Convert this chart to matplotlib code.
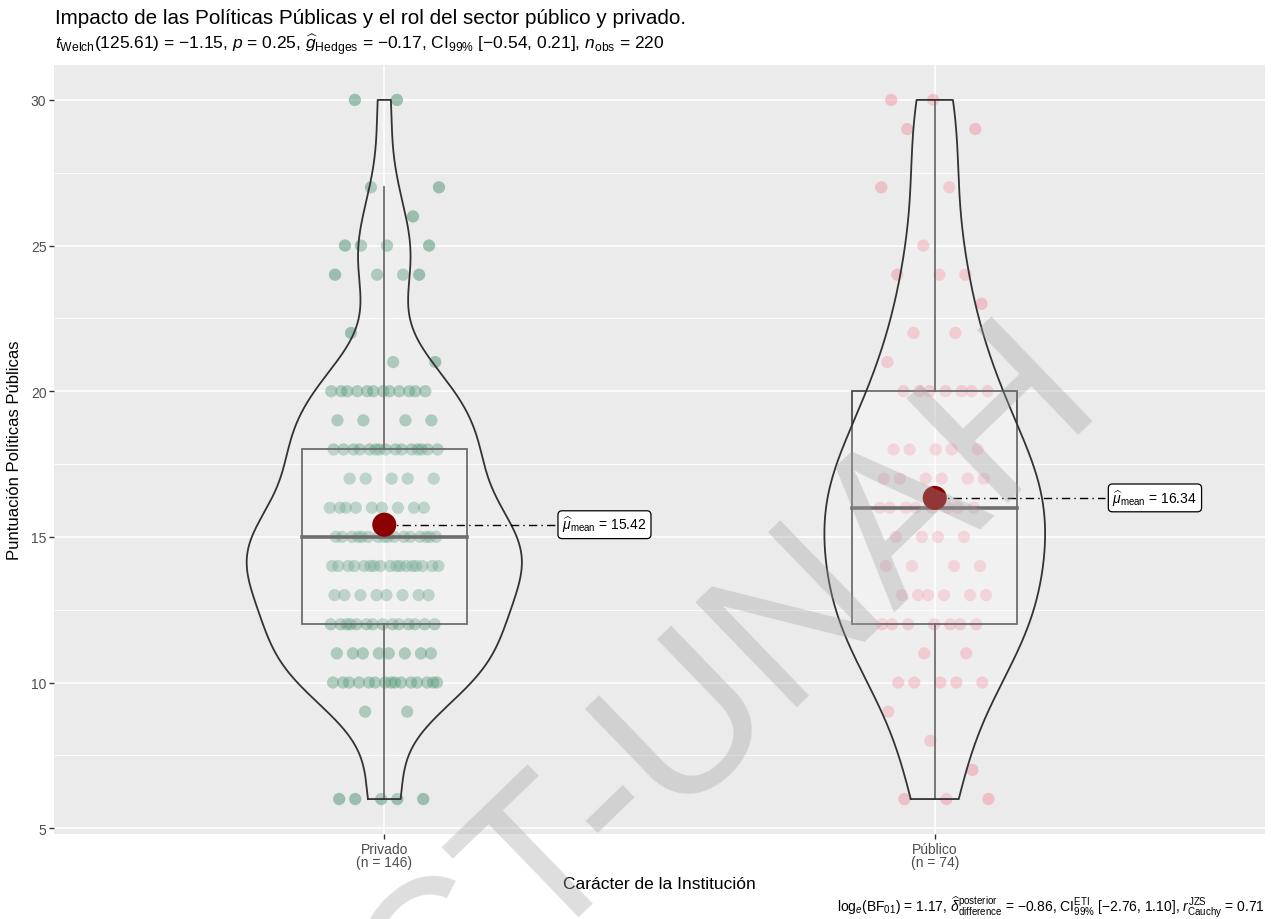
import numpy as np
import matplotlib
matplotlib.use("Agg")
import matplotlib.pyplot as plt
from matplotlib.patches import Rectangle

plt.rcParams['font.family'] = ['Liberation Sans', 'DejaVu Sans']
plt.rcParams['mathtext.fontset'] = 'custom'
plt.rcParams['mathtext.rm'] = 'Liberation Sans'
plt.rcParams['mathtext.it'] = 'Liberation Sans:italic'
plt.rcParams['mathtext.bf'] = 'Liberation Sans:bold'

# --- data: score -> number of respondents
scores = [6, 7, 8, 9, 10, 11, 12, 13, 14, 15, 16, 17, 18, 19, 20, 21, 22, 23, 24, 25, 26, 27, 29, 30]
privado_counts = [5, 0, 0, 2, 15, 8, 14, 8, 17, 16, 9, 5, 15, 4, 12, 2, 1, 0, 4, 4, 1, 2, 0, 2]
publico_counts = [3, 1, 1, 1, 5, 2, 7, 6, 4, 4, 8, 6, 5, 0, 7, 1, 2, 1, 3, 1, 0, 2, 2, 2]

groups = ["Privado", "Público"]
group_counts = [privado_counts, publico_counts]
point_colors = ["#217A52", "#F27D93"]
mean_labels = ["15.42", "16.34"]

title = "Impacto de las Políticas Públicas y el rol del sector público y privado."
subtitle = (r"$t_{\mathrm{Welch}}$(125.61) = −1.15, $p$ = 0.25, "
            r"$\widehat{g}_{\mathrm{Hedges}}$ = −0.17, CI$_{99\%}$ [−0.54, 0.21], "
            r"$n_{\mathrm{obs}}$ = 220")
caption = (r"log$_{e}$(BF$_{01}$) = 1.17, "
           r"$\widehat{\delta}_{\mathrm{difference}}^{\mathrm{posterior}}$ = −0.86, "
           r"CI$_{99\%}^{\mathrm{ETI}}$ [−2.76, 1.10], "
           r"$r_{\mathrm{Cauchy}}^{\mathrm{JZS}}$ = 0.71")


def kde(values, grid):
    n = len(values)
    q1, q3 = np.percentile(values, [25, 75])
    bw = 0.9 * min(values.std(ddof=1), (q3 - q1) / 1.34) * n ** -0.2
    z = (grid[:, None] - values[None, :]) / bw
    return np.exp(-0.5 * z ** 2).sum(axis=1) / (n * bw * np.sqrt(2 * np.pi))


fig = plt.figure(figsize=(12.71, 9.20), dpi=100)
ax = fig.add_axes([0.0425, 0.0924, 0.9528, 0.8359])
ax.set_facecolor("#EBEBEB")

samples = [np.repeat(scores, c).astype(float) for c in group_counts]
grids = [np.linspace(s.min(), s.max(), 512) for s in samples]
dens = [kde(s, g) for s, g in zip(samples, grids)]
dmax = max(d.max() for d in dens)

for i, (s, g, d) in enumerate(zip(samples, grids, dens)):
    xc = i + 1
    # jittered points (deterministic spread)
    k = np.arange(len(s)) + 1
    off = ((k * 0.6180339887 + i * 0.37) % 1.0 - 0.5) * 0.2
    ax.scatter(xc + off, s, s=78, color=point_colors[i], alpha=0.4,
               edgecolors="none", zorder=2)

    # boxplot
    q1, med, q3 = np.percentile(s, [25, 50, 75])
    iqr = q3 - q1
    lo = s[s >= q1 - 1.5 * iqr].min()
    hi = s[s <= q3 + 1.5 * iqr].max()
    bw_half = 0.15
    ax.add_patch(Rectangle((xc - bw_half, q1), 2 * bw_half, iqr,
                           facecolor=(1, 1, 1, 0.2), edgecolor="#4a4a4a",
                           lw=1.3, zorder=3))
    ax.plot([xc - bw_half, xc + bw_half], [med, med], color="#4a4a4a", lw=2.6, zorder=3)
    ax.plot([xc, xc], [q3, hi], color="#4a4a4a", lw=1.3, zorder=3)
    ax.plot([xc, xc], [lo, q1], color="#4a4a4a", lw=1.3, zorder=3)

    # violin (area scaled, trimmed)
    w = 0.25 * d / dmax
    ax.fill_betweenx(g, xc - w, xc + w, facecolor=(1, 1, 1, 0.2),
                     edgecolor="none", zorder=4)
    vx = np.concatenate([xc - w, (xc + w)[::-1], [xc - w[0]]])
    vy = np.concatenate([g, g[::-1], [g[0]]])
    ax.plot(vx, vy, color="#333333", lw=1.3, zorder=4)

    # mean point and label
    m = s.mean()
    lx = xc + 0.4
    ax.plot([xc, lx - 0.09], [m, m], color="black", lw=1.0,
            linestyle=(0, (6, 3, 1, 3)), zorder=5)
    ax.scatter([xc], [m], s=300, color="#8B0000", edgecolors="none", zorder=6)
    ax.text(lx, m, r"$\widehat{\mu}_{\mathrm{mean}}$ = " + mean_labels[i],
            fontsize=10, ha="center", va="center", zorder=7,
            bbox=dict(boxstyle="round,pad=0.3,rounding_size=0.3",
                      facecolor="white", edgecolor="black", lw=0.9))

ax.set_xlim(0.4, 2.6)
ax.set_ylim(4.8, 31.2)
ax.set_yticks([5, 10, 15, 20, 25, 30])
ax.set_yticks([7.5, 12.5, 17.5, 22.5, 27.5], minor=True)
ax.set_xticks([1, 2])
ax.set_xticklabels([f"{g}\n(n = {len(s)})" for g, s in zip(groups, samples)],
                   linespacing=0.95)
ax.grid(which="major", color="white", lw=1.2, zorder=0)
ax.grid(which="minor", axis="y", color="white", lw=0.6, zorder=0)
ax.set_axisbelow(True)
for sp in ax.spines.values():
    sp.set_visible(False)
ax.tick_params(axis="both", which="major", length=3.5, width=1.0, color="#333333",
               labelcolor="#4D4D4D", labelsize=10, pad=2)
ax.tick_params(axis="y", which="minor", length=0)

ax.set_xlabel("Carácter de la Institución", fontsize=12.5, labelpad=5)
ax.set_ylabel("Puntuación Políticas Públicas", fontsize=12, labelpad=6)

fig.text(55 / 1271, 1 - 18 / 920, title, fontsize=14.9, ha="left", va="center")
fig.text(55 / 1271, 1 - 45 / 920, subtitle, fontsize=12.5, ha="left", va="center")
fig.text(1265 / 1271, 1 - 907 / 920, caption, fontsize=10, ha="right", va="center")

# watermark
fig.text(728 / 1271, 1 - 688 / 920, "CT-UNAH", fontsize=152, rotation=44,
         color="#A0A0A0", alpha=0.35, ha="center", va="center",
         rotation_mode="anchor", zorder=10)

fig.savefig("out.png", dpi=100)
